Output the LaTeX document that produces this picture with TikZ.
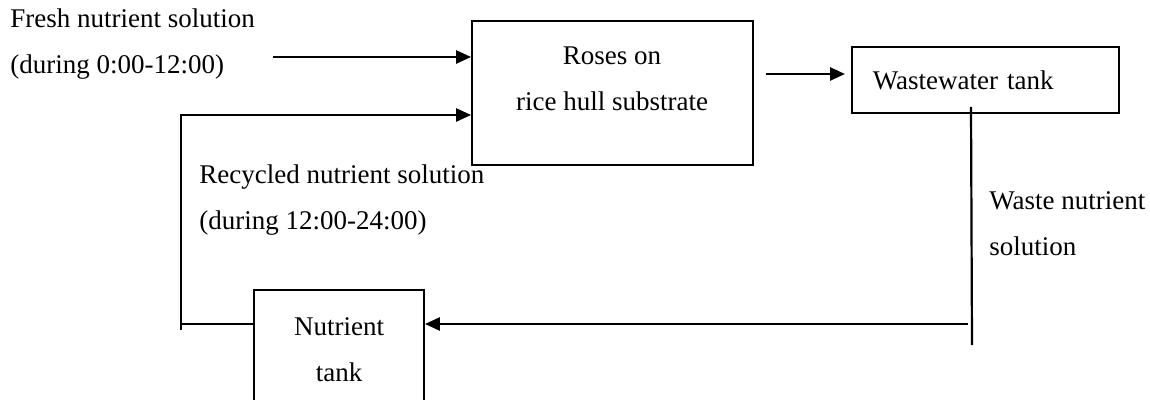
\documentclass[tikz,border=0pt]{standalone}
\usepackage{fontspec}
\setmainfont{Liberation Serif}
\usetikzlibrary{arrows.meta,positioning}

\begin{document}
\begin{tikzpicture}[
		x = 0.5pt, y = -0.5pt,
		font = \fontsize{13.5}{23}\selectfont,
		box/.style = {draw, line width = 0.9pt, inner sep = 0pt},
		lbl/.style = {align = left, inner sep = 0pt, anchor = west},
		flow/.style = {line width = 1.3pt, -{Triangle[length = 7.5pt, width = 6.5pt]}},
		pipe/.style = {line width = 1.1pt}
		]

		\useasboundingbox (0,0) rectangle (1150,400);
		\clip (0,0) rectangle (1150,400);

		% boxes
		\node[box, minimum width = 140.5pt, minimum height = 72pt] (roses) at (612.5,93) {};
		\node[align = center, inner sep = 0pt] (rosestxt) at (612,78.5) {Roses on\\rice hull substrate};
		\node[box, anchor = west, text width = 112.5pt, inner xsep = 10.5pt, minimum height = 33pt, align = left] (waste) at (851,80) {Wastewater tank};
		\node[box, minimum width = 85pt, minimum height = 60pt, align = center] (nutrient) at (339,350) {Nutrient\\tank};

		% labels
		\node[lbl] (freshlbl) at (10,44.5) {Fresh nutrient solution\\(during 0:00-12:00)};
		\node[lbl] (recyclbl) at (199,200.5) {Recycled nutrient solution\\(during 12:00-24:00)};
		\node[lbl] (wastelbl) at (989,223.5) {Waste nutrient\\solution};

		\coordinate (fresh) at (273,57);
		\coordinate (recyc) at (181,115);
		\coordinate (loop) at (181,330);
		\coordinate (wout) at (971,107);
		\coordinate (drain) at (972,345);
		\coordinate (return) at (968,324);

		\draw[flow] (fresh) -- (fresh -| roses.west);
		\draw[flow] ([xshift = 6pt, yshift = 3pt]roses.east |- waste.west) -- ([xshift = -3pt, yshift = 3pt]waste.west);
		\draw[pipe] (wout) -- (drain);
		\draw[flow] (return) -- (return -| nutrient.east);
		\draw[pipe] (nutrient.west |- return) -- (loop |- return);
		\draw[flow] (loop) -- (recyc) -- (recyc -| roses.west);

\end{tikzpicture}
\end{document}
